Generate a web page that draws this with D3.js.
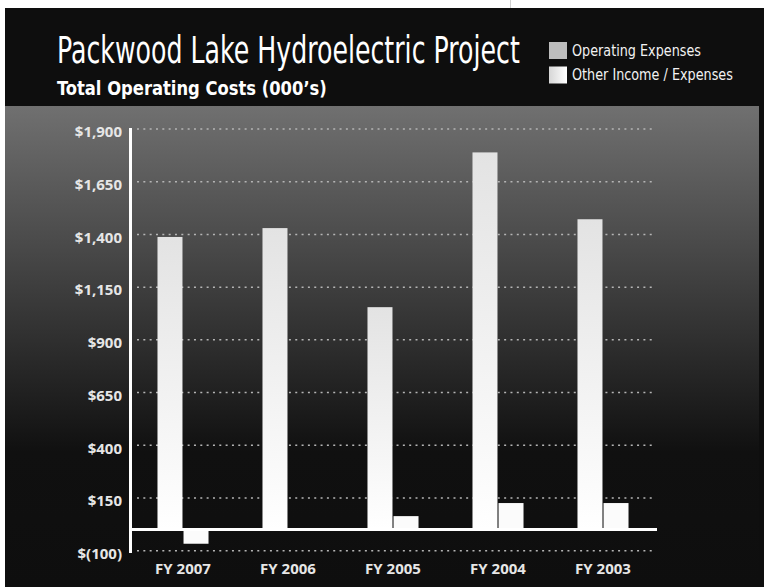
<!DOCTYPE html>
<html>
<head>
<meta charset="utf-8">
<script src="https://cdn.jsdelivr.net/npm/d3@7"></script>
<style>
  html, body { margin: 0; padding: 0; background: #ffffff; }
  svg { display: block; }
</style>
</head>
<body>
<script>
const categories = ["FY 2007", "FY 2006", "FY 2005", "FY 2004", "FY 2003"];
const seriesNames = ["Operating Expenses", "Other Income / Expenses"];
const operatingExpenses = [1388, 1430, 1055, 1789, 1472];
const otherIncomeExpenses = [-67, 0, 64, 126, 126];
const yTickValues = [-100, 150, 400, 650, 900, 1150, 1400, 1650, 1900];
const titleText = "Packwood Lake Hydroelectric Project";
const subtitleText = "Total Operating Costs (000\u2019s)";

const W = 764, H = 587;
const condensed = "'Liberation Sans Narrow', 'DejaVu Sans Condensed', 'Open Sans', sans-serif";
const labelFont = "'Open Sans', 'Liberation Sans', sans-serif";

const svg = d3.select("body").append("svg").attr("width", W).attr("height", H);
const defs = svg.append("defs");

const bg = defs.append("linearGradient").attr("id", "bgGrad").attr("x1", 0).attr("y1", 0).attr("x2", 0).attr("y2", 1);
bg.append("stop").attr("offset", "0").attr("stop-color", "#707070");
bg.append("stop").attr("offset", "0.72").attr("stop-color", "#101010");
bg.append("stop").attr("offset", "1").attr("stop-color", "#0e0e0e");

const barG = defs.append("linearGradient").attr("id", "barGrad").attr("x1", 0).attr("y1", 0).attr("x2", 0).attr("y2", 1);
barG.append("stop").attr("offset", "0").attr("stop-color", "#e3e3e3");
barG.append("stop").attr("offset", "1").attr("stop-color", "#ffffff");

const legG = defs.append("linearGradient").attr("id", "legGrad").attr("x1", 0).attr("y1", 0).attr("x2", 1).attr("y2", 0);
legG.append("stop").attr("offset", "0").attr("stop-color", "#d6d6d6");
legG.append("stop").attr("offset", "1").attr("stop-color", "#ffffff");

// Fit a text horizontally to a target width by scaling x only
function fitText(sel, x, yPos, targetWidth) {
  const natural = sel.node().getComputedTextLength();
  const s = natural > 0 ? targetWidth / natural : 1;
  sel.attr("x", 0).attr("y", 0)
     .attr("transform", `translate(${x},${yPos}) scale(${s},1)`);
}

// Backgrounds
svg.append("rect").attr("x", 0).attr("y", 0).attr("width", W).attr("height", H).attr("fill", "#ffffff");
svg.append("line").attr("x1", 510.5).attr("x2", 510.5).attr("y1", 0).attr("y2", 8).attr("stroke", "#d0d0d0").attr("stroke-width", 1);
svg.append("rect").attr("x", 5).attr("y", 8).attr("width", W - 5).attr("height", H - 8).attr("fill", "#0e0e0e");
svg.append("rect").attr("x", 5).attr("y", 106).attr("width", 754).attr("height", H - 106).attr("fill", "url(#bgGrad)");

// Title
const title = svg.append("text")
  .attr("font-family", condensed).attr("font-weight", 300).attr("font-size", 37)
  .attr("fill", "#ffffff").text(titleText);
fitText(title, 57, 63, 463);
const subtitle = svg.append("text")
  .attr("font-family", condensed).attr("font-weight", 700).attr("font-size", 19)
  .attr("fill", "#ffffff").text(subtitleText);
fitText(subtitle, 57, 95, 270);

// Legend
const legendFills = ["#bdbdbd", "url(#legGrad)"];
const legendWidths = [129, 161];
const legend = svg.append("g");
seriesNames.forEach((name, i) => {
  const yy = 42 + i * 24.5;
  legend.append("rect").attr("x", 549).attr("y", yy).attr("width", 18).attr("height", 17).attr("fill", legendFills[i]);
  const t = legend.append("text").attr("dy", "0.36em")
    .attr("font-family", condensed).attr("font-size", 15).attr("fill", "#f2f2f2")
    .text(name);
  fitText(t, 572, yy + 8.5, legendWidths[i]);
});

// Scales
const y = d3.scaleLinear().domain([-100, 1900]).range([550.7, 129]);
const x0 = d3.scaleBand().domain(categories).range([130.5, 655.5]).paddingInner(0.514).paddingOuter(0.257);
const x1 = d3.scaleBand().domain(["op", "other"]).range([0, x0.bandwidth()]).paddingInner(0.04);

// Gridlines
const grid = svg.append("g");
grid.selectAll("line").data(yTickValues).join("line")
  .attr("x1", 137).attr("x2", 656)
  .attr("y1", d => y(d)).attr("y2", d => y(d))
  .attr("stroke", "#b5b5b5").attr("stroke-width", 1.5).attr("stroke-dasharray", "2,4.33");

// Y axis labels via d3 axis
const fmt = v => v < 0 ? "$(" + d3.format(",")(-v) + ")" : "$" + d3.format(",")(v);
const yAxis = svg.append("g").attr("transform", "translate(122,0)")
  .call(d3.axisLeft(y).tickValues(yTickValues).tickFormat(fmt).tickSize(0).tickPadding(0));
yAxis.select(".domain").remove();
yAxis.selectAll("text")
  .attr("font-family", labelFont).attr("font-weight", 700).attr("font-size", 15)
  .attr("fill", "#e6e6e6").attr("dy", "0.65em").attr("y", -2);

// Bars
const groups = svg.append("g").selectAll("g").data(categories).join("g")
  .attr("transform", d => `translate(${x0(d)},0)`);
groups.append("rect")
  .attr("x", x1("op")).attr("width", x1.bandwidth())
  .attr("y", (d, i) => y(Math.max(0, operatingExpenses[i])))
  .attr("height", (d, i) => Math.abs(y(operatingExpenses[i]) - y(0)))
  .attr("fill", "url(#barGrad)");
groups.append("rect")
  .attr("x", x1("other")).attr("width", x1.bandwidth())
  .attr("y", (d, i) => y(Math.max(0, otherIncomeExpenses[i])))
  .attr("height", (d, i) => Math.abs(y(otherIncomeExpenses[i]) - y(0)))
  .attr("fill", "#fbfbfb");

// Zero line and y-axis line
svg.append("line").attr("x1", 130).attr("x2", 657).attr("y1", y(0)).attr("y2", y(0))
  .attr("stroke", "#ffffff").attr("stroke-width", 3);
svg.append("line").attr("x1", 130.5).attr("x2", 130.5).attr("y1", 128).attr("y2", 553)
  .attr("stroke", "#ffffff").attr("stroke-width", 3);

// X axis labels
const xAxis = svg.append("g").attr("transform", "translate(0,569)")
  .call(d3.axisBottom(x0).tickSize(0).tickPadding(0));
xAxis.select(".domain").remove();
xAxis.selectAll("text")
  .attr("font-family", labelFont).attr("font-weight", 700).attr("font-size", 15)
  .attr("fill", "#e6e6e6").attr("dy", "0.35em").attr("y", 0);
</script>
</body>
</html>
